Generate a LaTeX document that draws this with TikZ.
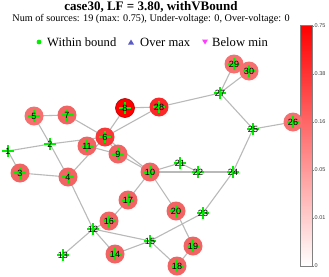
\documentclass[tikz,border=0pt]{standalone}
\usepackage{fontspec}
\setmainfont{Liberation Serif}
\newfontfamily\labfont{Liberation Sans}
\usetikzlibrary{backgrounds}
\definecolor{edgegray}{RGB}{185,185,185}
\definecolor{mkgreen}{RGB}{0,240,0}
\definecolor{cA}{RGB}{242,100,100}
\definecolor{cB}{RGB}{246,112,112}
\definecolor{cC}{RGB}{250,55,55}
\definecolor{cD}{RGB}{255,0,0}
\definecolor{cE}{RGB}{250,40,40}
\definecolor{legblue}{RGB}{90,90,200}
\definecolor{legmag}{RGB}{255,60,255}
\tikzset{
  bus/.style={circle, minimum size=19pt, inner sep=0pt, font=\labfont\fontsize{9}{9}\selectfont,
    path picture={\draw[mkgreen, line width=2.4pt]
      ([xshift=-6pt]path picture bounding box.center) -- ([xshift=6pt]path picture bounding box.center)
      ([yshift=-6pt]path picture bounding box.center) -- ([yshift=6pt]path picture bounding box.center);}},
  gen/.style={bus, fill=#1},
  link/.style={draw=edgegray, line width=1.1pt},
  legtext/.style={anchor=west, font=\fontsize{12.6}{13}\selectfont, inner sep=0pt},
}
\begin{document}
\begin{tikzpicture}[x=1pt,y=-1pt]
\useasboundingbox (0,0) rectangle (329,276);
% titles
\node[font=\bfseries\fontsize{13}{14}\selectfont, inner sep=0pt] (title) at (151,6.8) {case30, LF = 3.80, withVBound};
\node[font=\fontsize{10.2}{11}\selectfont, inner sep=0pt] (sub) at (151,19.5) {Num of sources: 19 (max: 0.75), Under-voltage: 0, Over-voltage: 0};
% legend
\fill[mkgreen] (39,42) circle (2.4pt);
\node[legtext] (l1) at (47,42) {Within bound};
\fill[legblue] (128,44.5) -- (134,44.5) -- (131,39.5) -- cycle;
\node[legtext] (l2) at (140,42) {Over max};
\fill[legmag] (202,39.5) -- (208,39.5) -- (205,44.5) -- cycle;
\node[legtext] (l3) at (212,42) {Below min};
% colorbar
\shade[bottom color=white, top color=red] (300,25) rectangle (312,266);
\draw[gray, line width=0.6pt] (300,25) rectangle (312,266);
\foreach \yy/\tx in {26/0.75, 74/0.38, 122/0.16, 170/0.05, 218/0.01, 266/0}{
  \draw[gray, line width=0.5pt] (312,\yy) -- (314,\yy);
  \node[anchor=west, inner sep=0pt, font=\labfont\fontsize{5.5}{6}\selectfont, text=darkgray] at (314.5,\yy) {\tx};
}
% buses
\node[bus] (b1) at (8,151) {1};
\node[bus] (b2) at (50,144) {2};
\node[gen=cA] (b3) at (20,173) {3};
\node[gen=cA] (b4) at (68,177) {4};
\node[gen=cB] (b5) at (34,116) {5};
\node[gen=cC] (b6) at (105,137) {6};
\node[gen=cA] (b7) at (67,115) {7};
\node[gen=cD, draw=red!70!black, line width=0.6pt] (b8) at (125,108) {8};
\node[gen=cA] (b9) at (118,154) {9};
\node[gen=cA] (b10) at (150,172) {10};
\node[gen=cA] (b11) at (87,146) {11};
\node[bus] (b12) at (93,229) {12};
\node[bus] (b13) at (63,255) {13};
\node[gen=cA] (b14) at (115,254) {14};
\node[bus] (b15) at (150,241) {15};
\node[gen=cA] (b16) at (109,221) {16};
\node[gen=cA] (b17) at (128,200) {17};
\node[gen=cA] (b18) at (177,266) {18};
\node[gen=cA] (b19) at (193,246) {19};
\node[gen=cA] (b20) at (176,211) {20};
\node[bus] (b21) at (180,163) {21};
\node[bus] (b22) at (198,172) {22};
\node[bus] (b23) at (203,213) {23};
\node[bus] (b24) at (233,172) {24};
\node[bus] (b25) at (253,129) {25};
\node[gen=cB] (b26) at (293,122) {26};
\node[bus] (b27) at (220,93) {27};
\node[gen=cE] (b28) at (159,107) {28};
\node[gen=cB] (b29) at (234,64) {29};
\node[gen=cB] (b30) at (249,71) {30};
\begin{scope}[on background layer]
\foreach \a/\b in {1/2,1/3,2/4,3/4,2/5,2/6,4/6,5/7,6/7,6/8,6/9,6/10,9/11,9/10,4/12,12/13,12/14,12/15,12/16,14/15,16/17,15/18,18/19,19/20,10/20,10/17,10/21,10/22,21/22,15/23,22/24,23/24,24/25,25/26,25/27,28/27,27/29,27/30,29/30,8/28,6/28}
  \draw[link] (b\a.center) -- (b\b.center);
\end{scope}
\end{tikzpicture}
\end{document}
